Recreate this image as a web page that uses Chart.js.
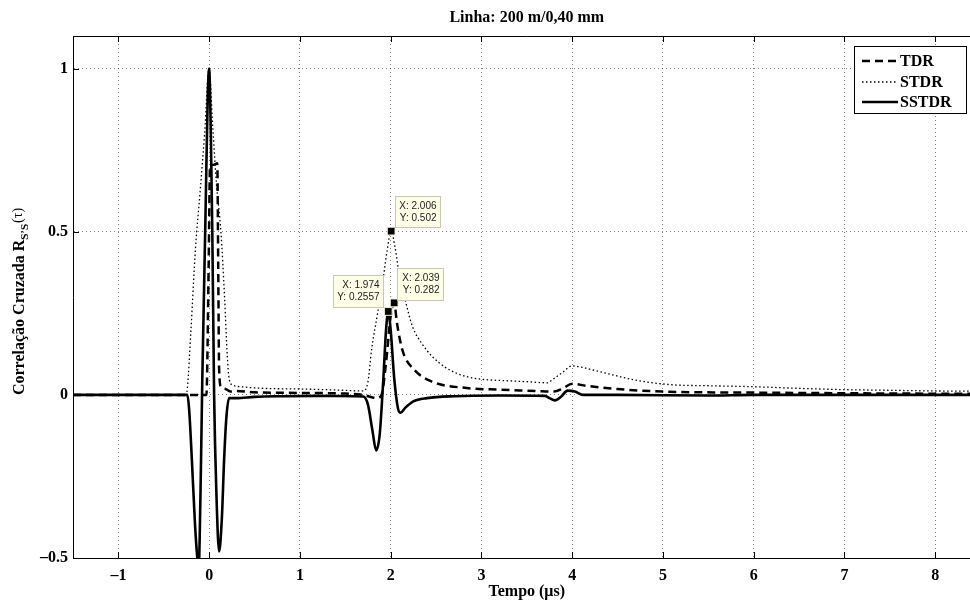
<!DOCTYPE html>
<html>
<head>
<meta charset="utf-8">
<script src="https://cdn.jsdelivr.net/npm/chart.js@4"></script>
<style>
  html, body { margin: 0; padding: 0; overflow: hidden; background: #fff; }
  #wrap { width: 987px; height: 601px; }
</style>
</head>
<body>
<div id="wrap"><canvas id="corrChart" width="987" height="601"></canvas></div>
<script>
// values (time in microseconds)
var sstdrX = [-1.5, -0.3, -0.24, -0.22, -0.19, -0.155, -0.13, -0.115, -0.095, -0.075, -0.04, -0.015, 0, 0.02, 0.035, 0.055, 0.08, 0.11, 0.14, 0.165, 0.19, 0.22, 0.3, 0.5, 0.8, 1.2, 1.6, 1.7, 1.75, 1.8, 1.84, 1.88, 1.92, 1.95, 1.974, 2.0, 2.04, 2.08, 2.11, 2.16, 2.25, 2.4, 2.7, 3.2, 3.7, 3.75, 3.81, 3.88, 3.95, 4.03, 4.12, 4.5, 5.5, 6, 8.5]
var sstdrY = [0, 0, 0, -0.046, -0.2, -0.4, -0.5, -0.53, -0.3, 0.05, 0.55, 0.92, 1.0, 0.78, 0.5, 0.0, -0.3, -0.48, -0.38, -0.2, -0.07, -0.01, -0.01, -0.006, -0.004, -0.003, -0.004, -0.005, -0.03, -0.11, -0.17, -0.12, 0.05, 0.2, 0.2557, 0.2, 0.05, -0.04, -0.055, -0.04, -0.02, -0.01, -0.004, -0.002, -0.003, -0.01, -0.017, -0.005, 0.013, 0.01, 0.0, 0.0, -0.002, 0.0, 0.0]

var tdrX = [-1.5, -0.03, -0.005, 0.01, 0.05, 0.09, 0.1, 0.11, 0.13, 0.18, 0.24, 0.3, 0.5, 1.0, 1.5, 1.7, 1.8, 1.85, 1.9, 1.95, 2.0, 2.039, 2.07, 2.13, 2.26, 2.46, 2.84, 3.2, 3.6, 3.8, 3.9, 4.0, 4.15, 4.5, 5.0, 6.0, 7.0, 8.5]
var tdrY = [0, 0, 0.4, 0.70, 0.705, 0.71, 0.4, 0.08, 0.025, 0.018, 0.01, 0.012, 0.008, 0.006, 0.004, 0.0, -0.008, -0.01, 0.0, 0.1, 0.24, 0.282, 0.22, 0.137, 0.077, 0.04, 0.021, 0.016, 0.012, 0.01, 0.02, 0.034, 0.028, 0.018, 0.01, 0.007, 0.005, 0.003]

var stdrX = [-1.5, -0.26, -0.24, -0.2, -0.15, -0.1, -0.05, 0, 0.04, 0.08, 0.13, 0.17, 0.2, 0.22, 0.26, 0.35, 0.6, 1.0, 1.4, 1.7, 1.75, 1.79, 1.85, 1.91, 1.96, 2.006, 2.05, 2.1, 2.17, 2.24, 2.35, 2.46, 2.6, 2.72, 2.85, 3.0, 3.3, 3.53, 3.72, 3.8, 3.9, 4.0, 4.1, 4.25, 4.45, 4.7, 5.1, 5.5, 6.0, 6.5, 7.0, 7.5, 8.0, 8.5]
var stdrY = [0, 0, 0.02, 0.2, 0.45, 0.62, 0.8, 1.0, 0.82, 0.65, 0.5, 0.3, 0.12, 0.05, 0.03, 0.025, 0.02, 0.018, 0.015, 0.012, 0.04, 0.138, 0.24, 0.34, 0.44, 0.502, 0.45, 0.36, 0.28, 0.21, 0.155, 0.117, 0.085, 0.067, 0.055, 0.048, 0.043, 0.04, 0.037, 0.05, 0.07, 0.089, 0.085, 0.075, 0.061, 0.045, 0.031, 0.028, 0.025, 0.02, 0.016, 0.014, 0.012, 0.011]

// data tips
var tipX = [2.006, 1.974, 2.039]
var tipY = [0.502, 0.2557, 0.282]
var tipText = [['X: 2.006', 'Y: 0.502'], ['X: 1.974', 'Y: 0.2557'], ['X: 2.039', 'Y: 0.282']]

var xTicks = [-1, 0, 1, 2, 3, 4, 5, 6, 7, 8]
var yTicks = [-0.5, 0, 0.5, 1]

var titleText = 'Linha: 200 m/0,40 mm'
var xTitle = 'Tempo (\u03bcs)'
var legendNames = ['TDR', 'STDR', 'SSTDR']

var serif = '"Liberation Serif", "Times New Roman", serif'

function toPoints(xs, ys){
    var pts = []
    for(var i = 0; i < xs.length; i++){
        pts.push({x: xs[i], y: ys[i]})
    }
    return pts
}

function fmtTick(v){
    if(v < 0){
        return '\u2013' + String(Math.abs(v))
    }
    return String(v)
}

// box offsets of the data tips relative to their marker (px)
var tipBox = [
    {dx: 4, dy: -35, w: 45, h: 31},
    {dx: -55, dy: -36, w: 50, h: 32},
    {dx: 3, dy: -35, w: 46, h: 32}
]

var overlay = {
    id: 'overlay',
    afterDatasetsDraw(chart){
        var ctx = chart.ctx
        var xs = chart.scales.x, ys = chart.scales.y
        ctx.save()
        for(var i = 0; i < tipX.length; i++){
            var px = xs.getPixelForValue(tipX[i])
            var py = ys.getPixelForValue(tipY[i])
            var b = tipBox[i]
            var bx = Math.round(px + b.dx) + 0.5, by = Math.round(py + b.dy) + 0.5
            ctx.fillStyle = '#ffffe8'
            ctx.strokeStyle = '#c8c8b4'
            ctx.lineWidth = 1
            ctx.fillRect(bx, by, b.w, b.h)
            ctx.strokeRect(bx, by, b.w, b.h)
            ctx.fillStyle = '#222'
            ctx.font = '10px "Liberation Sans", Arial, sans-serif'
            ctx.textAlign = 'right'
            ctx.textBaseline = 'middle'
            ctx.fillText(tipText[i][0], bx + b.w - 4, by + 10)
            ctx.fillText(tipText[i][1], bx + b.w - 4, by + 22)
        }
        ctx.restore()
    },
    afterDraw(chart){
        var ctx = chart.ctx
        var a = chart.chartArea
        var xs = chart.scales.x, ys = chart.scales.y
        ctx.save()

        // top border + inward tick marks
        ctx.strokeStyle = '#000'
        ctx.lineWidth = 1
        ctx.beginPath()
        ctx.moveTo(a.left, a.top + 0.5)
        ctx.lineTo(a.right, a.top + 0.5)
        xTicks.forEach(function(v){
            var p = Math.round(xs.getPixelForValue(v)) + 0.5
            ctx.moveTo(p, a.bottom)
            ctx.lineTo(p, a.bottom - 6)
            ctx.moveTo(p, a.top)
            ctx.lineTo(p, a.top + 6)
        })
        yTicks.forEach(function(v){
            var p = Math.round(ys.getPixelForValue(v)) + 0.5
            ctx.moveTo(a.left, p)
            ctx.lineTo(a.left + 6, p)
        })
        ctx.stroke()

        // title
        ctx.fillStyle = '#000'
        ctx.font = 'bold 16px ' + serif
        ctx.textAlign = 'center'
        ctx.textBaseline = 'middle'
        ctx.fillText(titleText, (a.left + a.right) / 2, 18)

        // y axis title with subscript
        ctx.translate(19, (a.top + a.bottom) / 2 + 5)
        ctx.rotate(-Math.PI / 2)
        var mainPart = 'Correla\u00e7\u00e3o Cruzada R'
        var subPart = 'S\u2019S'
        var tailPart = '(\u03c4)'
        ctx.font = 'bold 16px ' + serif
        var w1 = ctx.measureText(mainPart).width
        ctx.font = 'bold 11px ' + serif
        var w2 = ctx.measureText(subPart).width
        ctx.font = '14px ' + serif
        var w3 = ctx.measureText(tailPart).width
        var start = -(w1 + w2 + w3) / 2
        ctx.textAlign = 'left'
        ctx.textBaseline = 'alphabetic'
        ctx.font = 'bold 16px ' + serif
        ctx.fillText(mainPart, start, 5)
        ctx.font = 'bold 11px ' + serif
        ctx.fillText(subPart, start + w1, 9)
        ctx.font = '14px ' + serif
        ctx.fillText(tailPart, start + w1 + w2 + 1, 3)
        ctx.setTransform(1, 0, 0, 1, 0, 0)

        // legend
        var lx = 854.5, ly = 46.5, lw = 112, lh = 67
        ctx.fillStyle = '#fff'
        ctx.fillRect(lx, ly, lw, lh)
        ctx.strokeStyle = '#000'
        ctx.lineWidth = 1
        ctx.strokeRect(lx, ly, lw, lh)
        var rows = [61, 82, 102]
        var styles = [
            {dash: [8, 5], width: 2.5, color: '#000'},
            {dash: [1.5, 2.5], width: 1.3, color: '#000'},
            {dash: [], width: 2.5, color: '#000'}
        ]
        for(var i = 0; i < rows.length; i++){
            ctx.beginPath()
            ctx.setLineDash(styles[i].dash)
            ctx.lineWidth = styles[i].width
            ctx.strokeStyle = styles[i].color
            ctx.moveTo(862, rows[i])
            ctx.lineTo(898, rows[i])
            ctx.stroke()
            ctx.setLineDash([])
            ctx.fillStyle = '#000'
            ctx.font = 'bold 16px ' + serif
            ctx.textAlign = 'left'
            ctx.textBaseline = 'middle'
            ctx.fillText(legendNames[i], 900, rows[i] + 1)
        }
        ctx.restore()
    }
}

new Chart(document.getElementById('corrChart'), {
    type: 'line',
    data: {
        datasets: [
            {
                label: 'Markers',
                data: toPoints(tipX, tipY),
                showLine: false,
                pointStyle: 'rect',
                pointRadius: 5.5,
                pointBackgroundColor: '#000',
                pointBorderColor: '#f4f4d0',
                pointBorderWidth: 1,
                order: 0
            },
            {
                label: legendNames[2],
                data: toPoints(sstdrX, sstdrY),
                borderColor: '#000',
                borderWidth: 2.6,
                pointRadius: 0,
                cubicInterpolationMode: 'monotone',
                order: 1
            },
            {
                label: legendNames[0],
                data: toPoints(tdrX, tdrY),
                borderColor: '#000',
                borderWidth: 2.5,
                borderDash: [8, 5],
                pointRadius: 0,
                cubicInterpolationMode: 'monotone',
                order: 2
            },
            {
                label: legendNames[1],
                data: toPoints(stdrX, stdrY),
                borderColor: '#000',
                borderWidth: 1.3,
                borderDash: [1.5, 2.5],
                pointRadius: 0,
                cubicInterpolationMode: 'monotone',
                order: 3
            }
        ]
    },
    options: {
        responsive: false,
        animation: false,
        layout: {
            padding: {top: 36, left: 0, right: 0, bottom: 0}
        },
        plugins: {
            legend: {display: false},
            tooltip: {enabled: false},
            title: {display: false}
        },
        scales: {
            x: {
                type: 'linear',
                min: -1.5,
                max: 8.5,
                afterBuildTicks: function(axis){
                    axis.ticks = xTicks.map(function(v){ return {value: v} })
                },
                afterFit: function(axis){
                    axis.height = 43
                },
                ticks: {
                    color: '#000',
                    padding: 8,
                    maxRotation: 0,
                    font: {family: serif, size: 16, weight: 'bold'},
                    callback: function(v){ return fmtTick(v) }
                },
                grid: {
                    color: 'rgba(0,0,0,0.5)',
                    lineWidth: 1,
                    drawTicks: false
                },
                border: {display: true, color: '#000', width: 1, dash: [1, 3]},
                title: {
                    display: true,
                    text: xTitle,
                    color: '#000',
                    font: {family: serif, size: 16, weight: 'bold'},
                    padding: {top: 0, bottom: 0}
                }
            },
            y: {
                type: 'linear',
                min: -0.5,
                max: 1.1,
                afterBuildTicks: function(axis){
                    axis.ticks = yTicks.map(function(v){ return {value: v} })
                },
                afterFit: function(axis){
                    axis.width = 73
                },
                ticks: {
                    color: '#000',
                    padding: 5,
                    font: {family: serif, size: 16, weight: 'bold'},
                    callback: function(v){ return fmtTick(v) }
                },
                grid: {
                    color: 'rgba(0,0,0,0.5)',
                    lineWidth: 1,
                    drawTicks: false
                },
                border: {display: true, color: '#000', width: 1, dash: [1, 3]}
            }
        }
    },
    plugins: [overlay]
})
</script>
</body>
</html>
